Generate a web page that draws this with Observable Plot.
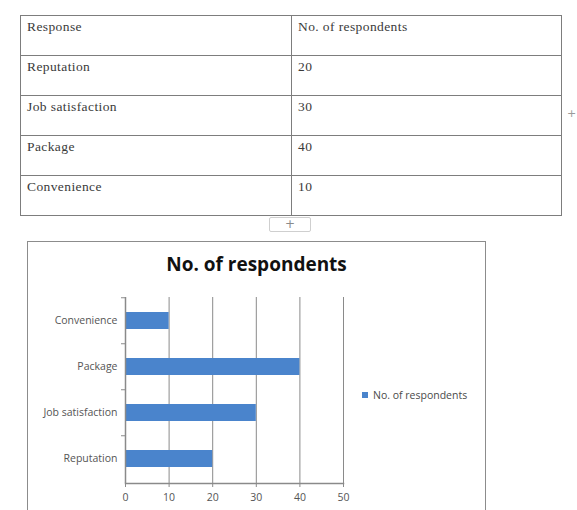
<!DOCTYPE html>
<html>
<head>
<meta charset="utf-8">
<script src="https://cdn.jsdelivr.net/npm/d3@7"></script>
<script src="https://cdn.jsdelivr.net/npm/@observablehq/plot@0.6"></script>
<style>
  html, body { margin: 0; padding: 0; background: #fff; }
  #page { position: relative; width: 577px; height: 510px; overflow: hidden; background: #fff; }
  table.data {
    position: absolute; left: 20px; top: 15px; width: 542px; height: 200px;
    border-collapse: collapse; table-layout: fixed;
    font-family: "Liberation Serif", "DejaVu Serif", serif; font-size: 13.5px; color: #3a3a3a;
  }
  table.data td {
    border: 1.5px solid #7d7d7d; vertical-align: top; padding: 3px 6px 0 6px; height: 40px; box-sizing: border-box;
    letter-spacing: 0.4px;
  }
  table.data col.c1 { width: 271px; }
  .addrow {
    position: absolute; left: 269px; top: 217px; width: 42px; height: 15px; box-sizing: border-box;
    border: 1px solid #cfcfcf; border-radius: 2px; color: #8a8a8a;
    font: 12px "DejaVu Sans", sans-serif; text-align: center; line-height: 13px;
  }
  .addcol { position: absolute; left: 567px; top: 107px; color: #9a9a9a; font: 11px "DejaVu Sans", sans-serif; }
  .chartbox {
    position: absolute; left: 27px; top: 241px; width: 459px; height: 300px; box-sizing: border-box;
    border: 1px solid #8c8c8c; background: #fff;
  }
  .title {
    position: absolute; left: 27px; top: 251px; width: 459px; text-align: center;
    font: bold 19px "Open Sans", Lato, sans-serif; color: #111;
  }
  #plot { position: absolute; left: 27px; top: 285px; }
  .legend {
    position: absolute; left: 362px; top: 388px; font: 10.5px "Open Sans", Lato, sans-serif; color: #4a4a4a;
    display: flex; align-items: center; gap: 5px;
  }
  .legend .sw { width: 6px; height: 6px; background: #4a84cc; }
</style>
</head>
<body>
<div id="page">
  <table class="data" id="tbl">
    <colgroup><col class="c1"><col></colgroup>
    <tbody></tbody>
  </table>
  <div class="addrow">+</div>
  <div class="addcol">+</div>
  <div class="chartbox"></div>
  <div class="title" id="title"></div>
  <div id="plot"></div>
  <div class="legend"><div class="sw"></div><span id="legendText"></span></div>
</div>
<script>
// Survey responses and counts, in table order
const responses = ["Reputation", "Job satisfaction", "Package", "Convenience"];
const respondents = [20, 30, 40, 10];
const seriesName = "No. of respondents";
const headerLabels = ["Response", "No. of respondents"];
const xTicks = [0, 10, 20, 30, 40, 50];

// Table
const tbody = document.querySelector("#tbl tbody");
const rows = [headerLabels, ...responses.map((r, i) => [r, String(respondents[i])])];
for (const row of rows) {
  const tr = document.createElement("tr");
  for (const cell of row) {
    const td = document.createElement("td");
    td.textContent = cell;
    tr.appendChild(td);
  }
  tbody.appendChild(tr);
}

document.getElementById("title").textContent = seriesName;
document.getElementById("legendText").textContent = seriesName;

// Bar chart
const data = responses.map((r, i) => ({response: r, value: respondents[i]}));
const width = 459, height = 225, marginTop = 12, marginBottom = 27, marginLeft = 98, marginRight = 143;
const step = (height - marginTop - marginBottom) / responses.length;
const gray = "#8a8a8a";
const font = "'Open Sans', Lato, sans-serif";

const chart = Plot.plot({
  width, height, marginTop, marginBottom, marginLeft, marginRight,
  style: {fontFamily: font, fontSize: "10.5px", color: "#555", background: "transparent"},
  x: {domain: [0, 50], ticks: xTicks},
  y: {domain: [...responses].reverse(), paddingInner: 0.63, paddingOuter: 0.315, label: null},
  marks: [
    Plot.ruleX(xTicks.slice(1), {stroke: gray, strokeWidth: 1}),
    Plot.barX(data, {x: "value", y: "response", fill: "#4a84cc"}),
    Plot.ruleX([0], {stroke: gray, strokeWidth: 1.5}),
    Plot.frame({anchor: "bottom", stroke: gray, strokeWidth: 1.5}),
    Plot.axisX({ticks: xTicks, tickSize: 4, tickPadding: 6, stroke: gray, label: null, fill: "#555"}),
    Plot.axisY({tickSize: 0, tickPadding: 8, fill: "#555", label: null}),
    Plot.axisY({tickSize: 4, text: null, stroke: gray, dy: -step / 2, label: null})
  ]
});
document.getElementById("plot").appendChild(chart);
</script>
</body>
</html>
